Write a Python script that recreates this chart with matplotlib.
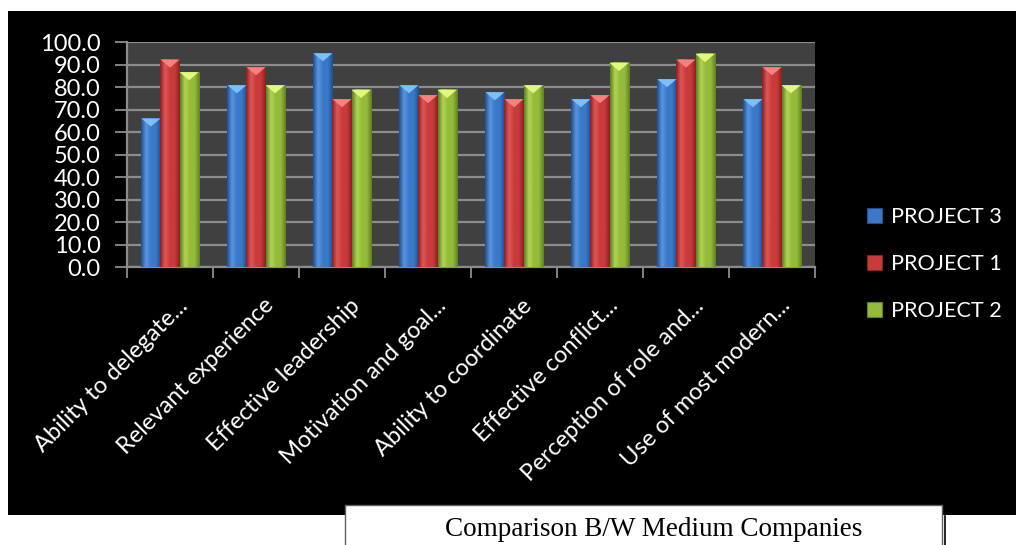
import numpy as np
import matplotlib
matplotlib.use("Agg")
import matplotlib.pyplot as plt
from matplotlib.patches import Rectangle, Polygon, Patch
from matplotlib.colors import LinearSegmentedColormap
from matplotlib.transforms import ScaledTranslation

# --- data ---
categories = [
    "Ability to delegate...",
    "Relevant experience",
    "Effective leadership",
    "Motivation and goal...",
    "Ability to coordinate",
    "Effective conflict...",
    "Perception of role and...",
    "Use of most modern...",
]
series_names = ["PROJECT 3", "PROJECT 1", "PROJECT 2"]
project3 = [66.0, 80.8, 95.0, 80.8, 77.7, 74.6, 83.5, 74.6]
project1 = [92.2, 88.8, 74.6, 76.4, 74.6, 76.4, 92.2, 88.8]
project2 = [86.6, 80.8, 78.7, 78.7, 80.8, 90.7, 94.7, 80.8]
y_ticks = [0, 10, 20, 30, 40, 50, 60, 70, 80, 90, 100]
title = "Comparison B/W Medium Companies"

# body colour, edge shade, highlight, bevel top
palette = [
    ("#3b78c8", "#1f4f8f", "#5a96e0", "#7cc0f8"),
    ("#c93b3b", "#8a2020", "#e05858", "#f88080"),
    ("#94bb3a", "#5f8020", "#b2d455", "#e0f880"),
]

plt.rcParams["font.family"] = ["Lato", "DejaVu Sans"]

fig = plt.figure(figsize=(10.16, 5.45), dpi=100)
fig.patch.set_facecolor("white")

# black chart frame
fig.patches.append(Rectangle((8 / 1016, 1 - 515 / 545), 1, (515 - 11) / 545,
                             transform=fig.transFigure, facecolor="black",
                             edgecolor="none", zorder=-1))

ax = fig.add_axes([127 / 1016, 1 - 267 / 545, (815 - 127) / 1016, (267 - 42) / 545])
ax.set_zorder(1)
ax.set_facecolor("#404040")

n = len(categories)
x = np.arange(n)
bar_w = 0.222
values = [project3, project1, project2]
bevel = 3.6  # depth of the top bevel, in data units

for s, vals in enumerate(values):
    body, edge, light, top = palette[s]
    cmap = LinearSegmentedColormap.from_list("b%d" % s, [edge, light, body, body, edge])
    grad = np.linspace(0, 1, 64).reshape(1, -1)
    for i, v in enumerate(vals):
        x0 = x[i] + (s - 1) * bar_w - bar_w / 2
        x1 = x0 + bar_w
        ax.imshow(grad, extent=[x0, x1, 0, v], aspect="auto", cmap=cmap,
                  zorder=3, interpolation="bilinear")
        xc = (x0 + x1) / 2
        ax.add_patch(Polygon([(x0, v), (x1, v), (xc, v - bevel)], closed=True,
                             facecolor=top, edgecolor="none", zorder=4))

ax.set_xlim(-0.5, n - 0.5)
ax.set_ylim(0, 100)

ax.set_yticks(y_ticks)
ax.set_yticklabels(["%.1f" % t for t in y_ticks])
ax.yaxis.grid(True, color="#8c8c8c", linewidth=1.6, zorder=1)
ax.set_axisbelow(True)
ax.tick_params(axis="y", colors="#8c8c8c", length=9, width=1.3, direction="out",
               pad=10, labelsize=17, labelcolor="white")

ax.set_xticks(x)
ax.set_xticklabels(categories, rotation=45, ha="right", va="top",
                   rotation_mode="anchor", fontsize=17, color="white")
ax.set_xticks(np.arange(n + 1) - 0.5, minor=True)
ax.tick_params(axis="x", which="major", length=0, pad=20)
ax.tick_params(axis="x", which="minor", colors="#8c8c8c", length=8, width=1.3,
               direction="out")
for lab in ax.get_xticklabels():
    lab.set_transform(lab.get_transform() + ScaledTranslation(0.07, 0, fig.dpi_scale_trans))

for side in ("top", "right"):
    ax.spines[side].set_visible(False)
for side in ("left", "bottom"):
    ax.spines[side].set_color("#8c8c8c")
    ax.spines[side].set_linewidth(1.6)

handles = [Patch(facecolor=palette[s][0], edgecolor=palette[s][1], linewidth=0.8)
           for s in range(3)]
leg = fig.legend(handles, series_names, loc="center left",
                 bbox_to_anchor=(847 / 1016, 1 - 264 / 545), frameon=False,
                 fontsize=15.6, labelcolor="white", handlelength=0.72,
                 handleheight=0.72, handletextpad=0.4, labelspacing=1.25)

# caption box below the chart
fig.patches.append(Rectangle((345 / 1016, -0.01), (942 - 345) / 1016, 0.01 + 40 / 545,
                             transform=fig.transFigure, facecolor="white",
                             edgecolor="#606060", linewidth=1.0, zorder=2))
fig.lines.append(plt.Line2D([945 / 1016, 945 / 1016], [0, 1 - 516 / 545],
                            transform=fig.transFigure, color="black", linewidth=1.2))
fig.text(654 / 1016, 1 - 530 / 545, title, family="Liberation Serif", fontsize=19.5,
         color="black", ha="center", va="center", zorder=3)

fig.savefig("out.png", dpi=100, facecolor=fig.get_facecolor())
